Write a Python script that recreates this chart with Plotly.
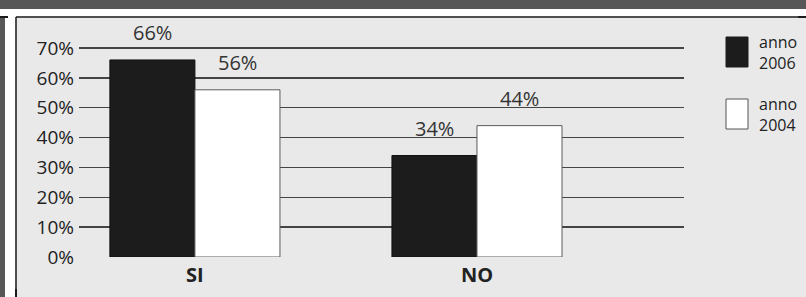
import plotly.graph_objects as go

# ---- data ----
categories = ["SI", "NO"]
series_names = ["anno 2006", "anno 2004"]
values_2006 = [66, 34]
values_2004 = [56, 44]
y_ticks = [0, 10, 20, 30, 40, 50, 60, 70]
y_tick_labels = ["0%", "10%", "20%", "30%", "40%", "50%", "60%", "70%"]

# page geometry (browser body keeps its default 8px margin)
PAGE_W, PAGE_H = 806, 297
OFF = 8
W, H = PAGE_W - 2 * OFF, PAGE_H - 2 * OFF          # figure size
L, R, T, B = 79, 684, 18, 257                       # plot area, page pixels
PW, PH = R - L, B - T

def px(x):   # page pixel -> paper fraction
    return (x - L) / PW

def py(y):
    return (B - y) / PH

FONT = "Open Sans"
BARGAP = 0.397
bar_w = (1 - BARGAP) / 2
x_pos = list(range(len(categories)))

fig = go.Figure()
fig.add_trace(go.Bar(
    x=x_pos, y=values_2006, name=series_names[0],
    marker=dict(color="#1c1c1c", line=dict(color="#111111", width=1)),
))
fig.add_trace(go.Bar(
    x=x_pos, y=values_2004, name=series_names[1],
    marker=dict(color="#ffffff", line=dict(color="#5a5a5a", width=1)),
))

annotations = []
for i in x_pos:
    for vals, off in ((values_2006, -bar_w / 2), (values_2004, bar_w / 2)):
        annotations.append(dict(
            x=i + off, y=vals[i], xref="x", yref="y",
            text=f"{vals[i]}%", showarrow=False, yanchor="middle",
            yshift=27, font=dict(family=FONT, size=20, color="#333333"),
        ))

# legend (custom, large swatches)
leg_items = [("#1c1c1c", "#1c1c1c", 37, 67, "anno<br>2006"),
             ("#ffffff", "#555555", 99, 129, "anno<br>2004")]
shapes = [
    dict(type="rect", xref="paper", yref="paper", x0=px(0), x1=px(PAGE_W), y0=py(9), y1=py(0),
         fillcolor="#575757", line_width=0, layer="below"),
    dict(type="rect", xref="paper", yref="paper", x0=px(5), x1=px(PAGE_W), y0=py(16.5), y1=py(9),
         fillcolor="#ffffff", line_width=0, layer="below"),
    dict(type="rect", xref="paper", yref="paper", x0=px(5), x1=px(15.5), y0=py(PAGE_H), y1=py(9),
         fillcolor="#ffffff", line_width=0, layer="below"),
    dict(type="line", xref="paper", yref="paper", x0=px(16), x1=px(PAGE_W), y0=py(17), y1=py(17),
         line=dict(color="#1a1a1a", width=1.5), layer="below"),
    dict(type="line", xref="paper", yref="paper", x0=px(16), x1=px(16), y0=py(17), y1=py(PAGE_H),
         line=dict(color="#1a1a1a", width=1.5), layer="below"),
]
for fill, edge, y0, y1, label in leg_items:
    shapes.append(dict(type="rect", xref="paper", yref="paper",
                       x0=px(726), x1=px(748), y0=py(y1), y1=py(y0),
                       fillcolor=fill, line=dict(color=edge, width=1)))
    annotations.append(dict(x=px(757), y=py((y0 + y1) / 2), xref="paper", yref="paper",
                            text=label, showarrow=False, xanchor="left", yanchor="middle",
                            align="left", font=dict(family=FONT, size=16, color="#222222")))

fig.update_layout(
    width=W, height=H,
    margin=dict(l=L - OFF, r=W - (R - OFF), t=T - OFF, b=H - (B - OFF), pad=0, autoexpand=False),
    paper_bgcolor="#e9e9e9", plot_bgcolor="rgba(0,0,0,0)",
    barmode="group", bargap=BARGAP, bargroupgap=0,
    showlegend=False,
    shapes=shapes, annotations=annotations,
    font=dict(family=FONT, color="#222222"),
)
fig.update_xaxes(
    range=[-0.411, 1.734], tickvals=x_pos, ticktext=categories,
    showgrid=False, zeroline=False, showline=False, ticks="",
    tickfont=dict(family=FONT, size=20, color="#222222", weight="bold"),
    ticklabelstandoff=4, automargin=False,
)
fig.update_yaxes(
    range=[0, PH / (B - 48) * 70], tickvals=y_ticks, ticktext=y_tick_labels,
    showgrid=True, gridcolor="#444444", gridwidth=1.5,
    zeroline=False, showline=False, ticks="",
    tickfont=dict(family=FONT, size=19, color="#222222"),
    ticklabelstandoff=4, automargin=False,
)

# page background around the 8px body margin continues the frame
POST = (
    "document.body.style.background="
    "'linear-gradient(to bottom,#575757 0 9px,#ffffff 9px 16.5px,#1a1a1a 16.5px 18px,transparent 18px),"
    "linear-gradient(to right,#575757 0 5px,#ffffff 5px 15.5px,#1a1a1a 15.5px 17px,#e9e9e9 17px)';"
)

fig.write_html("out.html",
               config={"displayModeBar": False, "staticPlot": True},
               post_script=POST)
